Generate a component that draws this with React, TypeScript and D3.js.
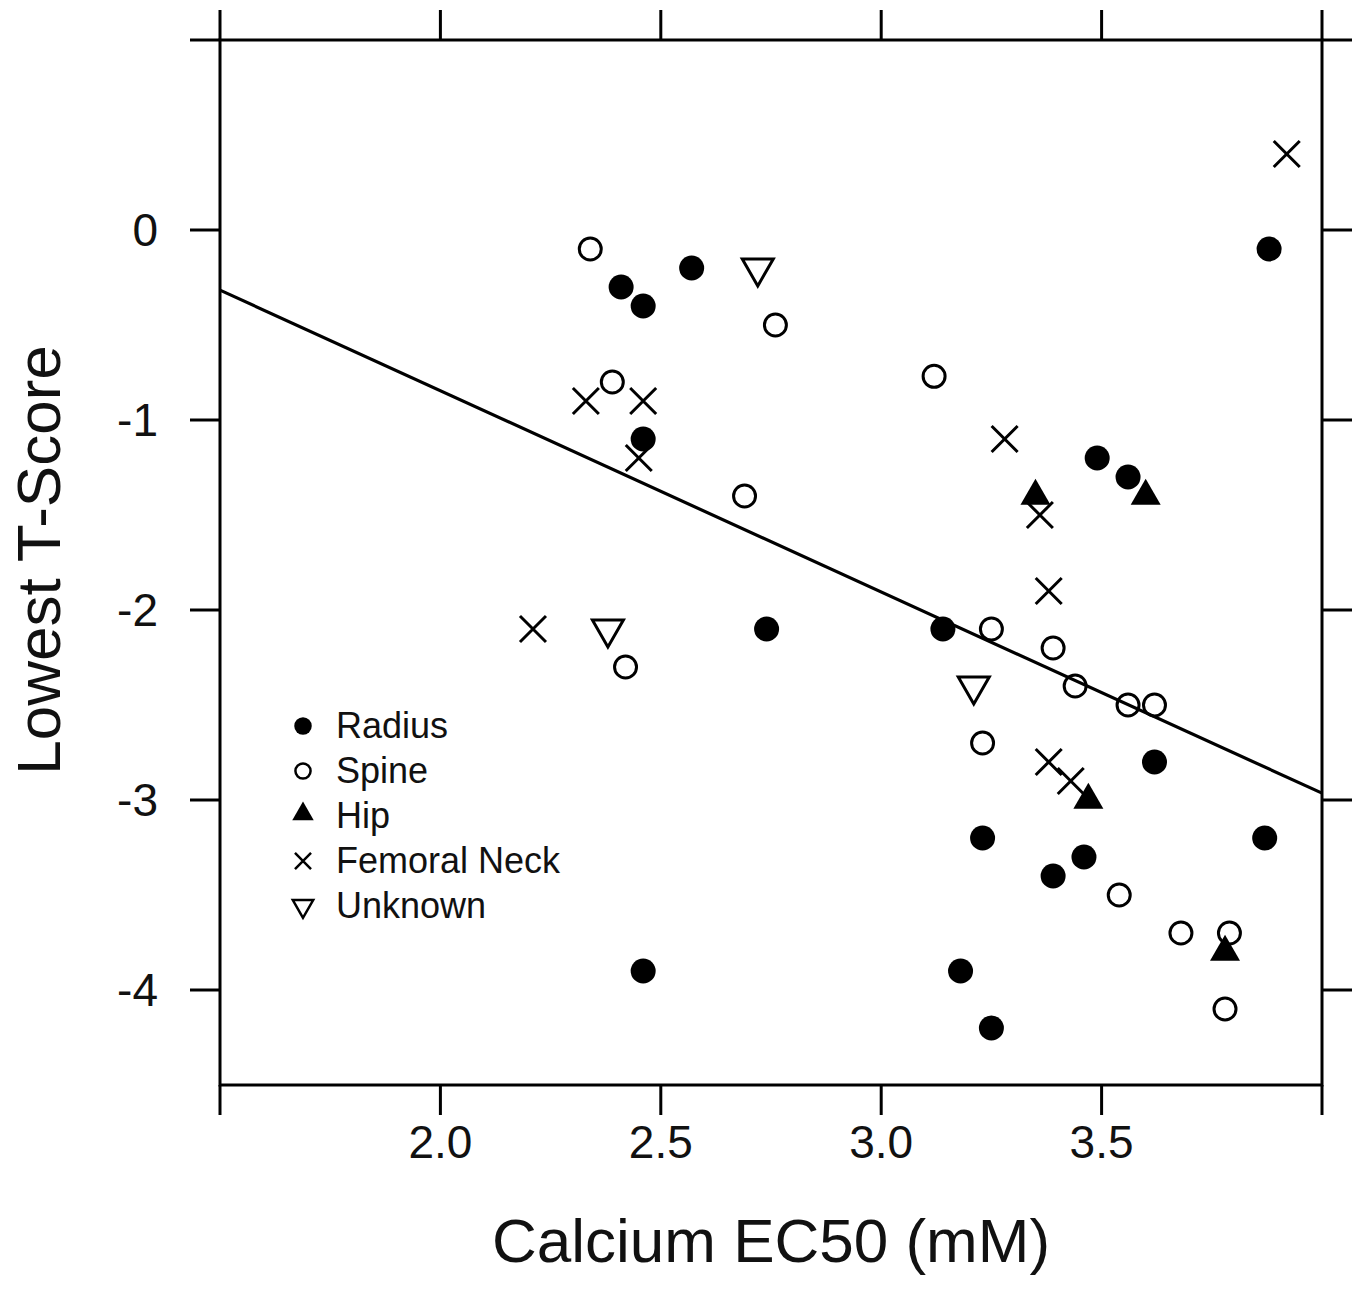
import * as d3 from "d3";

const width = 1360;
const height = 1303;

// Calcium EC50 (mM) and lowest T-score, per fracture site
const radiusX = [2.41, 2.46, 2.57, 2.46, 2.74, 2.46, 3.14, 3.49, 3.56, 3.62, 3.23, 3.39, 3.46, 3.18, 3.25, 3.88, 3.87];
const radiusY = [-0.3, -0.4, -0.2, -1.1, -2.1, -3.9, -2.1, -1.2, -1.3, -2.8, -3.2, -3.4, -3.3, -3.9, -4.2, -0.1, -3.2];

const spineX = [2.34, 2.76, 2.39, 2.69, 2.42, 3.12, 3.25, 3.39, 3.44, 3.56, 3.62, 3.23, 3.54, 3.68, 3.79, 3.78];
const spineY = [-0.1, -0.5, -0.8, -1.4, -2.3, -0.77, -2.1, -2.2, -2.4, -2.5, -2.5, -2.7, -3.5, -3.7, -3.7, -4.1];

const hipX = [3.35, 3.6, 3.47, 3.78];
const hipY = [-1.4, -1.4, -3.0, -3.8];

const neckX = [3.92, 2.33, 2.46, 2.45, 2.21, 3.28, 3.36, 3.38, 3.38, 3.43];
const neckY = [0.4, -0.9, -0.9, -1.2, -2.1, -1.1, -1.5, -1.9, -2.8, -2.9];

const unknownX = [2.72, 2.38, 3.21];
const unknownY = [-0.2, -2.1, -2.4];

const lineIntercept = 1.272;
const lineSlope = -1.059;

const xTicks = [1.5, 2.0, 2.5, 3.0, 3.5, 4.0];
const xLabels = [2.0, 2.5, 3.0, 3.5];
const yTicks = [1, 0, -1, -2, -3, -4];
const yLabels = [0, -1, -2, -3, -4];

const legendNames = ["Radius", "Spine", "Hip", "Femoral Neck", "Unknown"];

const x = d3.scaleLinear().domain([1.5, 4.0]).range([220, 1322]);
const y = d3.scaleLinear().domain([-4.5, 1.0]).range([1085, 40]);

const font = "Liberation Sans, Arial, Helvetica, sans-serif";

const sym = (type: d3.SymbolType, size: number) => d3.symbol().type(type).size(size)() as string;

// marker styles, big for the plot and small for the legend
const styles = (big: boolean) => [
  { d: sym(d3.symbolCircle, big ? 491 : 240), fill: true, rot: 0, sw: 0 },
  { d: sym(d3.symbolCircle, big ? 380 : 180), fill: false, rot: 0, sw: big ? 3 : 2.5 },
  { d: sym(d3.symbolTriangle, big ? 390 : 200), fill: true, rot: 0, sw: 0 },
  { d: sym(d3.symbolTimes, big ? 443 : 170), fill: false, rot: 0, sw: big ? 3 : 2.5 },
  { d: sym(d3.symbolTriangle, big ? 416 : 180), fill: false, rot: 180, sw: big ? 3 : 2.5 },
];

const series = [
  { xs: radiusX, ys: radiusY },
  { xs: spineX, ys: spineY },
  { xs: hipX, ys: hipY },
  { xs: neckX, ys: neckY },
  { xs: unknownX, ys: unknownY },
];

const Marker = ({ s, cx, cy }: { s: any; cx: number; cy: number }) => (
  <path
    d={s.d}
    transform={`translate(${cx},${cy}) rotate(${s.rot})`}
    fill={s.fill ? "#000" : "none"}
    stroke={s.fill ? "none" : "#000"}
    strokeWidth={s.sw}
  />
);

const App = () => {
  const big = styles(true);
  const small = styles(false);
  const line = d3
    .line<number>()
    .x((d) => x(d))
    .y((d) => y(lineIntercept + lineSlope * d));

  return (
    <svg
      width={width}
      height={height}
      style={{ position: "absolute", left: 0, top: 0, background: "#fff" }}
    >
      <rect width={width} height={height} fill="#fff" />
      {/* frame */}
      <rect x={220} y={40} width={1102} height={1045} fill="none" stroke="#000" strokeWidth={3} />
      {xTicks.map((t) => (
        <g key={"xt" + t}>
          <line x1={x(t)} x2={x(t)} y1={40} y2={10} stroke="#000" strokeWidth={3} />
          <line x1={x(t)} x2={x(t)} y1={1085} y2={1115} stroke="#000" strokeWidth={3} />
        </g>
      ))}
      {yTicks.map((t) => (
        <g key={"yt" + t}>
          <line x1={220} x2={190} y1={y(t)} y2={y(t)} stroke="#000" strokeWidth={3} />
          <line x1={1322} x2={1352} y1={y(t)} y2={y(t)} stroke="#000" strokeWidth={3} />
        </g>
      ))}
      {xLabels.map((t) => (
        <text key={"xl" + t} x={x(t)} y={1158} textAnchor="middle" fontFamily={font} fontSize={46} fill="#111">
          {t.toFixed(1)}
        </text>
      ))}
      {yLabels.map((t) => (
        <text key={"yl" + t} x={158} y={y(t) + 16} textAnchor="end" fontFamily={font} fontSize={46} fill="#111">
          {t === 0 ? "0" : "-" + Math.abs(t)}
        </text>
      ))}
      <text x={771} y={1262} textAnchor="middle" fontFamily={font} fontSize={62} fill="#111">
        Calcium EC50 (mM)
      </text>
      <text
        transform="translate(60,560) rotate(-90)"
        textAnchor="middle"
        fontFamily={font}
        fontSize={62}
        fill="#111"
      >
        Lowest T-Score
      </text>

      {/* regression line */}
      <path d={line([1.5, 4.0]) as string} fill="none" stroke="#000" strokeWidth={3.2} />

      {/* points */}
      {series.map((sr, i) =>
        sr.xs.map((v, j) => <Marker key={i + "-" + j} s={big[i]} cx={x(v)} cy={y(sr.ys[j])} />)
      )}

      {/* legend */}
      {legendNames.map((name, i) => (
        <g key={name} transform={`translate(0,${726 + i * 45})`}>
          <Marker s={small[i]} cx={303} cy={i === 2 ? -2 : 0} />
          <text x={336} y={12} fontFamily={font} fontSize={36} fill="#111">
            {name}
          </text>
        </g>
      ))}
    </svg>
  );
};

export default App;
